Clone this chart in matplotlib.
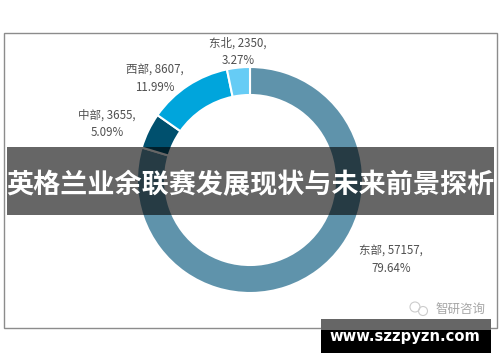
import matplotlib
matplotlib.use('Agg')
import matplotlib.pyplot as plt
from matplotlib.patches import Rectangle, Circle

plt.rcParams['font.family'] = ['Noto Sans CJK SC', 'DejaVu Sans']

# 数据
regions = ['东部', '中部', '西部', '东北']
values = [57157, 3655, 8607, 2350]
shares = ['79.64%', '5.09%', '11.99%', '3.27%']
colors = ['#5F93AB', '#00506E', '#00A5DC', '#66CCF5']
title = '英格兰业余联赛发展现状与未来前景探析'
site = 'www.szzpyzn.com'
mark = '智研咨询'

W, H = 500, 362
fig = plt.figure(figsize=(W / 100, H / 100), dpi=100)
ax = fig.add_axes([0, 0, 1, 1])
ax.set_xlim(0, W)
ax.set_ylim(0, H)
ax.axis('off')

# 外框
ax.add_patch(Rectangle((3.5, H - 328), 493, 295.5, fc='white', ec='#8c8c8c', lw=1))

# 环形图
ax.pie(values, colors=colors, startangle=90, counterclock=False,
       center=(250, H - 180), radius=113, frame=True,
       wedgeprops=dict(width=28, edgecolor='white', linewidth=1.5))
ax.set_xlim(0, W)
ax.set_ylim(0, H)
ax.set_aspect('auto')
ax.axis('off')

# 数据标签
label_pos = [(391, H - 260), (107, H - 124), (155, H - 79), (238, H - 52)]
for r, v, s, p in zip(regions, values, shares, label_pos):
    ax.text(p[0], p[1], f'{r}, {v},\n{s}', ha='center', va='center', fontsize=8.3,
            color='#505050', linespacing=1.4)

# 水印
ax.add_patch(Circle((415, H - 307), 5, fc='none', ec='#cccccc', lw=0.8))
ax.add_patch(Circle((423, H - 311), 4.5, fc='none', ec='#cccccc', lw=0.8))
ax.text(460, H - 309, mark, ha='center', va='center', fontsize=9, color='#a6a6a6')

# 标题条
ax.add_patch(Rectangle((7, H - 215), 487, 68, fc='black', ec='none', alpha=0.6, zorder=5))
ax.text(250, H - 185, title, ha='center', va='center', fontsize=19.5, color='white',
        fontweight='bold', zorder=6)

# 网址条
ax.add_patch(Rectangle((321, H - 353), 170, 34, fc='black', ec='none', alpha=1, zorder=5))
ax.add_patch(Rectangle((321, H - 330), 170, 11, fc='#666666', ec='none', zorder=5.5))
ax.text(405, H - 337, site, ha='center', va='center', fontsize=10.6, color='white',
        fontweight='bold', family='DejaVu Sans', zorder=6)

fig.savefig('out.png', dpi=100)
